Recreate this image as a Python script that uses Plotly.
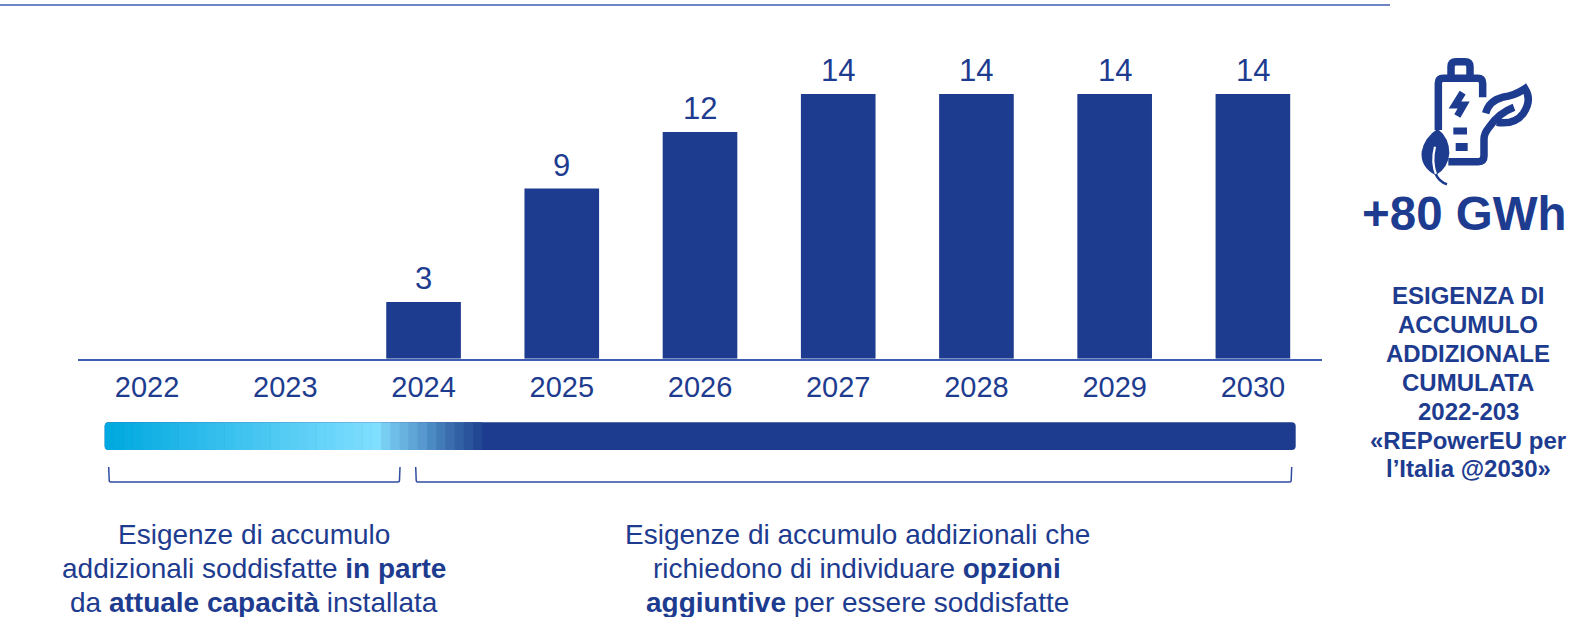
import plotly.graph_objects as go

# Annual additional storage need, GWh
years = ["2022", "2023", "2024", "2025", "2026", "2027", "2028", "2029", "2030"]
need_gwh = [None, None, 3, 9, 12, 14, 14, 14, 14]
total_label = "+80 GWh"
side_lines = ["ESIGENZA DI", "ACCUMULO", "ADDIZIONALE", "CUMULATA", "2022-203",
              "«REPowerEU per", "l’Italia @2030»"]
left_note = ["Esigenze di accumulo",
             "addizionali soddisfatte <b>in parte</b>",
             "da <b>attuale capacità</b> installata"]
right_note = ["Esigenze di accumulo addizionali che",
              "richiedono di individuare <b>opzioni</b>",
              "<b>aggiuntive</b> per essere soddisfatte"]

W, H = 1576, 617
NAVY = "#1E3C8F"
RULE = "#3F5DB0"
FONT = "Liberation Sans"
BASE_Y, PLOT_TOP = 358.7, 60
PX_PER_GWH = 18.9


def px(x):
    return x / W


def py(y):
    return 1 - y / H


fig = go.Figure(go.Bar(
    x=years, y=need_gwh, width=0.54,
    marker=dict(color=NAVY, line=dict(width=0)),
    cliponaxis=False,
    hoverinfo="x+y",
))

shapes = []


def line(x0, y0, x1, y1, width=1.4, color=RULE):
    shapes.append(dict(type="line", xref="paper", yref="paper",
                       x0=px(x0), y0=py(y0), x1=px(x1), y1=py(y1),
                       line=dict(color=color, width=width)))


def path(points, width=0, fill=None, color=NAVY):
    """points: SVG-like commands with coordinates in canvas pixels."""
    out = []
    for cmd in points:
        op, *xy = cmd
        pairs = " ".join(f"{px(xy[i]):.5f},{py(xy[i + 1]):.5f}" for i in range(0, len(xy), 2))
        out.append(f"{op}{pairs}")
    shapes.append(dict(type="path", xref="paper", yref="paper", path=" ".join(out),
                       fillcolor=fill if fill else "rgba(0,0,0,0)",
                       line=dict(color=color, width=width)))


# Rule across the top of the slide
line(0, 5, 1390, 5)

# Timeline band: rounded dark bar with a stepped blue ramp on its left part
BX0, BX1, BY0, BY1, R = 104.7, 1295.7, 422.3, 450, 4
path([("M", BX0 + R, BY0), ("L", BX1 - R, BY0), ("Q", BX1, BY0, BX1, BY0 + R),
      ("L", BX1, BY1 - R), ("Q", BX1, BY1, BX1 - R, BY1), ("L", BX0 + R, BY1),
      ("Q", BX0, BY1, BX0, BY1 - R), ("L", BX0, BY0 + R), ("Q", BX0, BY0, BX0 + R, BY0), ("Z",)],
     fill=NAVY, color=NAVY)


def mix(a, b, t):
    return "#" + "".join(f"{round(a[i] + (b[i] - a[i]) * t):02X}" for i in range(3))


light_steps = 30
step = (380.5 - BX0) / light_steps
ramp = [mix((0, 169, 224), (128, 222, 255), i / (light_steps - 1)) for i in range(light_steps)]
ramp += ["#78CDF2", "#6FBEEA", "#68B2E0", "#5FA5D6", "#5799CE", "#4C8AC3",
         "#437BB8", "#3A6CAE", "#3260A5", "#2A549C", "#234893"]
for i in reversed(range(len(ramp))):
    x0 = BX0 + i * step
    x1 = x0 + step + 0.6
    if i == 0:
        path([("M", x1, BY0), ("L", BX0 + R, BY0), ("Q", BX0, BY0, BX0, BY0 + R),
              ("L", BX0, BY1 - R), ("Q", BX0, BY1, BX0 + R, BY1), ("L", x1, BY1), ("Z",)],
             fill=ramp[i], color=ramp[i])
    else:
        path([("M", x0, BY0), ("L", x1, BY0), ("L", x1, BY1), ("L", x0, BY1), ("Z",)],
             fill=ramp[i], color=ramp[i])

# Brackets under the band
for xa, xb in [(108.7, 400), (415.7, 1291.7)]:
    path([("M", xa, 467), ("L", xa + 0.5, 480), ("Q", xa + 0.5, 482, xa + 2, 482),
          ("L", xb - 2, 482), ("Q", xb - 0.5, 482, xb - 0.5, 480), ("L", xb, 467)],
         width=1.5, color="#2F4CA0")


# Battery-and-leaves icon, drawn in a local grid of one third of a pixel
def ic(*cmds):
    res = []
    for cmd in cmds:
        op, *xy = cmd
        res.append((op, *[(1415 + v / 3) if i % 2 == 0 else (50 + v / 3) for i, v in enumerate(xy)]))
    return res


STROKE = 7.5
path(ic(("M", 108, 75), ("L", 108, 50), ("Q", 108, 35, 123, 35), ("L", 150, 35),
        ("Q", 165, 35, 165, 50), ("L", 165, 75)), width=STROKE)
path(ic(("M", 203, 142), ("L", 203, 100), ("Q", 203, 85, 188, 85), ("L", 85, 85),
        ("Q", 70, 85, 70, 100), ("L", 70, 240)), width=STROKE)
path(ic(("M", 100, 335), ("L", 190, 335), ("Q", 207, 335, 207, 318), ("L", 207, 268),
        ("Q", 207, 250, 222, 232), ("Q", 250, 190, 297, 172)), width=STROKE)
path(ic(("M", 212, 190), ("Q", 222, 152, 262, 142), ("Q", 300, 137, 330, 116),
        ("Q", 352, 150, 325, 190), ("Q", 300, 225, 245, 217)), width=STROKE)
path(ic(("M", 143, 128), ("L", 120, 165), ("L", 146, 165), ("L", 127, 198)), width=7)
path(ic(("M", 115, 243), ("L", 156, 243)), width=7)
path(ic(("M", 122, 291), ("L", 158, 291)), width=8)
path(ic(("M", 68, 236), ("Q", 104, 265, 103, 310), ("Q", 100, 355, 62, 376),
        ("Q", 15, 350, 20, 305), ("Q", 28, 262, 68, 236), ("Z",)), fill=NAVY)
path(ic(("M", 60, 290), ("Q", 48, 335, 64, 376)), width=2.2, color="#FFFFFF")
path(ic(("M", 62, 372), ("Q", 72, 395, 96, 403)), width=2.6)

# Free-standing text, one annotation per line to hold the leading
annotations = []


def label(text, x, y, size, bold=False):
    annotations.append(dict(
        text=f"<b>{text}</b>" if bold else text, x=px(x), y=py(y), xref="paper", yref="paper",
        xanchor="center", yanchor="middle", showarrow=False,
        font=dict(family=FONT, size=size, color=NAVY)))


label(total_label, 1464, 214, 47.5, True)
for t, y in zip(side_lines, [295.5, 324.6, 353.8, 382, 411, 440, 469]):
    label(t, 1468, y, 24, True)
for t, y in zip(left_note, [534.7, 568.8, 602]):
    label(t, 253.8, y, 28)
for t, y in zip(right_note, [534.7, 568.8, 602]):
    label(t, 857, y, 28)

# Value labels sit a fixed distance above their bars; x is the category position
for pos, v in enumerate(need_gwh):
    if v is not None:
        annotations.append(dict(
            text=str(v), x=pos, y=v, xref="x", yref="y",
            xanchor="center", yanchor="bottom", showarrow=False, yshift=4,
            font=dict(family=FONT, size=31, color=NAVY)))

fig.update_layout(
    width=W, height=H, margin=dict(l=0, r=0, t=0, b=0, pad=0, autoexpand=False),
    paper_bgcolor="#FFFFFF", plot_bgcolor="#FFFFFF", showlegend=False,
    shapes=shapes, annotations=annotations,
    xaxis=dict(domain=[px(78), px(1322)], anchor="y", type="category",
               categoryorder="array", categoryarray=years, range=[-0.5, 8.5],
               showgrid=False, zeroline=False, showline=True, linecolor=RULE, linewidth=1.5,
               ticks="outside", ticklen=2, tickcolor="rgba(0,0,0,0)",
               tickfont=dict(family=FONT, size=29, color=NAVY)),
    yaxis=dict(domain=[py(BASE_Y), py(PLOT_TOP)],
               range=[0, (BASE_Y - PLOT_TOP) / PX_PER_GWH],
               visible=False, showgrid=False, zeroline=False),
)

fig.write_html("out.html")
